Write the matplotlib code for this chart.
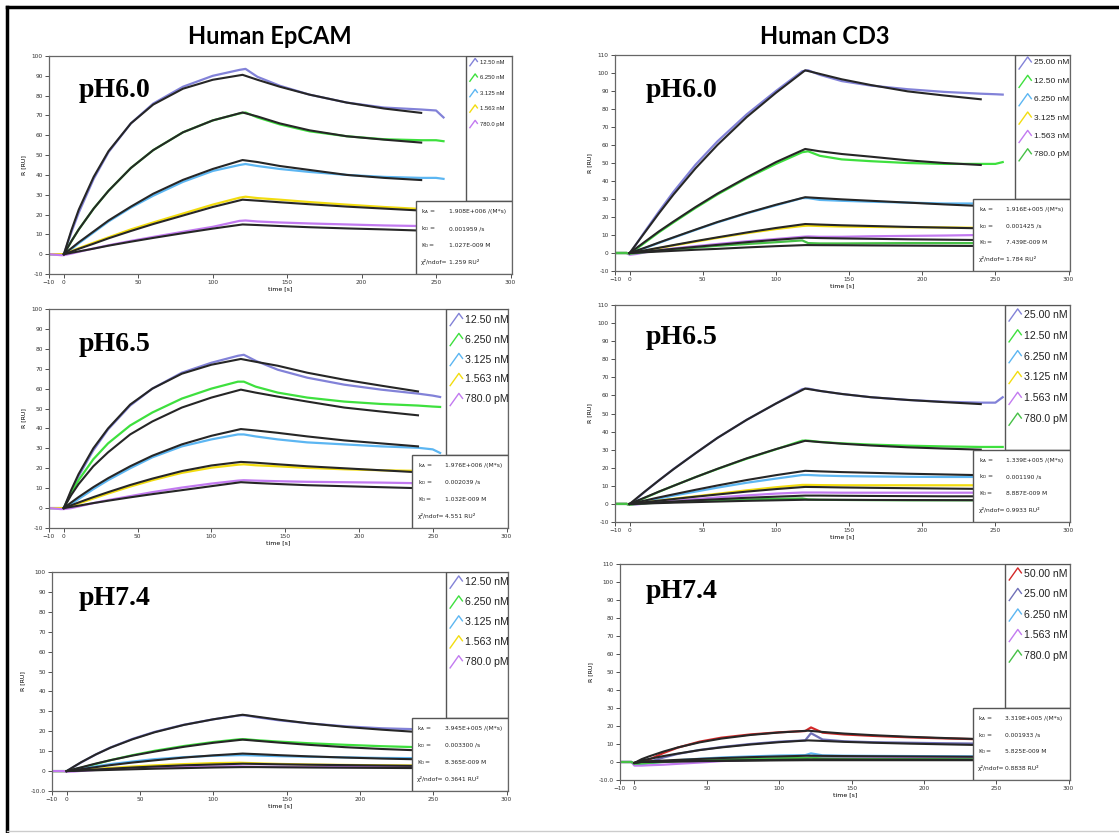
import numpy as np
import matplotlib.pyplot as plt
from matplotlib.patches import Rectangle
from matplotlib.lines import Line2D

# time grids (s) shared by all sensorgrams
FIT_T = [0, 5, 10, 20, 30, 45, 60, 80, 100, 120, 130, 145, 165, 190, 215, 240]
DATA_T = [-10, -2, 0, 5, 10, 20, 30, 45, 60, 80, 100, 118, 122, 130, 145, 165, 190, 215, 240, 250, 255]

PURPLE = '#8282d8'
GREEN = '#3ee03e'
LBLUE = '#5cb6f2'
YELLOW = '#f2dc10'
VIOLET = '#c27af0'
DGREEN = '#46c046'
RED = '#d42828'

# ---- Human EpCAM pH6.0
ep60_labels = ['12.50 nM', '6.250 nM', '3.125 nM', '1.563 nM', '780.0 pM']
ep60_colors = [PURPLE, GREEN, LBLUE, YELLOW, VIOLET]
ep60_data = [
    [0, 0, 0, 11, 21, 38, 51.5, 66, 76, 84.5, 90, 93, 93.5, 89.5, 85, 80.5, 76.5, 74, 73, 72.5, 69],
    [0, 0, 0, 6.5, 12.5, 23, 32, 43.5, 52.5, 61.5, 67.5, 71, 71.5, 69, 65.5, 62, 59.5, 58, 57.5, 57.5, 57],
    [0, 0, 0, 2.5, 5.5, 11, 16.5, 23.5, 29.5, 36.5, 42, 45, 45.5, 44.5, 43, 41.5, 40, 39, 38.5, 38.5, 38],
    [0, 0, 0, 1.5, 3, 5.8, 8.5, 12.5, 16, 20.5, 25, 28.5, 29, 28.3, 27.5, 26.3, 25, 23.8, 22.8, 22.5, 22],
    [0, -0.5, -0.5, 0.3, 1.2, 2.9, 4.5, 6.7, 8.7, 11.3, 13.8, 16.8, 17, 16.5, 16, 15.5, 15, 14.5, 14.2, 14, 14],
]
ep60_fit = [
    [0, 12, 22.5, 39, 52, 66, 75.5, 83.5, 88, 90.5, 88, 84.5, 80.5, 76.5, 73.5, 71.3],
    [0, 6.5, 12.5, 23, 32, 43.5, 52.5, 61.5, 67.5, 71.5, 69.5, 66, 62.5, 59.5, 57.8, 56.3],
    [0, 3, 6, 11.5, 17, 24, 30.5, 37.5, 43, 47.5, 46.5, 44.5, 42.5, 40, 38.5, 37.4],
    [0, 1.3, 2.7, 5.3, 8, 11.7, 15.2, 19.5, 23.8, 27.5, 27, 26.2, 25.2, 24, 23, 22],
    [0, 0.7, 1.4, 2.8, 4.3, 6.3, 8.2, 10.6, 12.9, 15, 14.7, 14.2, 13.6, 13, 12.5, 11.9],
]
ep60_kin = ['1.908E+006 /(M*s)', '0.001959 /s', '1.027E-009 M', '1.259 RU\u00b2']

# ---- Human CD3 pH6.0
cd60_labels = ['25.00 nM', '12.50 nM', '6.250 nM', '3.125 nM', '1.563 nM', '780.0 pM']
cd60_colors = [PURPLE, GREEN, LBLUE, YELLOW, VIOLET, DGREEN]
cd60_data = [
    [0, 0, -0.5, 5.5, 11.5, 23, 34, 49, 62, 77, 90, 101, 101.5, 99, 95.5, 93, 91, 89.5, 88.5, 88.2, 88],
    [0, 0, -0.5, 2.5, 5.5, 11.5, 17, 25, 32.5, 41.5, 49.5, 56, 56.5, 54, 52, 51, 50, 49.5, 49.5, 49.5, 50.5],
    [0, 0, -0.5, 1.2, 2.6, 5.6, 8.5, 12.8, 17, 22, 26.5, 30.5, 30.5, 29.5, 29, 28.5, 28, 27.5, 27.5, 27.5, 27.5],
    [0, 0, -0.5, 0.5, 1.2, 2.7, 4.2, 6.3, 8.4, 11, 13.3, 15, 15.2, 15, 14.7, 14.5, 14.3, 14.2, 14, 14, 14],
    [0, 0, -1, -0.5, 0.3, 1.5, 2.5, 3.8, 5, 6.5, 7.8, 9, 9.2, 9, 9, 9.3, 9.5, 9.7, 10, 10, 10],
    [0, 0, -0.5, 0, 0.5, 1.3, 2, 3, 4, 5, 6, 7, 5.5, 5.3, 5.3, 5.4, 5.5, 5.5, 5.5, 5.5, 5.5],
]
cd60_fit = [
    [0, 5.5, 11, 22, 32.5, 47, 60, 75.5, 89, 101.5, 99.5, 96.5, 93.3, 89.8, 87.5, 85.4],
    [0, 3, 6, 12, 17.5, 25.5, 33, 42, 50.5, 57.8, 56.5, 55, 53.5, 51.5, 50, 48.9],
    [0, 1.4, 2.8, 5.8, 8.7, 13, 17.2, 22.2, 26.8, 31, 30.5, 29.8, 29, 28, 27, 26.1],
    [0, 0.7, 1.4, 2.9, 4.4, 6.6, 8.7, 11.4, 13.9, 16.1, 15.8, 15.4, 15, 14.5, 14.1, 13.7],
    [0, 0.4, 0.7, 1.5, 2.3, 3.4, 4.5, 6, 7.3, 8.5, 8.3, 8.1, 7.9, 7.6, 7.4, 7.2],
    [0, 0.2, 0.4, 0.8, 1.2, 1.8, 2.3, 3.1, 3.8, 4.4, 4.35, 4.3, 4.2, 4.1, 4, 3.9],
]
cd60_kin = ['1.916E+005 /(M*s)', '0.001425 /s', '7.439E-009 M', '1.784 RU\u00b2']

# ---- Human EpCAM pH6.5
ep65_labels = ep60_labels
ep65_colors = ep60_colors
ep65_data = [
    [0, 0, 0, 8, 16, 29, 39.5, 51.5, 60, 68, 73, 76.5, 77, 74, 69.5, 65.5, 62, 59.5, 57.5, 56.5, 55.8],
    [0, 0, 0, 7.5, 14, 24.5, 32.5, 41.5, 48, 55, 60, 63.5, 63.5, 61, 58, 55.5, 53.5, 52.3, 51.5, 51, 50.8],
    [0, 0, 0, 2, 4.5, 9.5, 14, 20, 25.5, 31, 34.5, 37, 37, 36, 34.5, 33, 32, 31, 30.3, 29.5, 27.7],
    [0, 0, 0, 1, 2.3, 4.8, 7.3, 10.8, 14, 17.7, 20.3, 21.8, 22, 21.5, 21, 20.2, 19.5, 19, 18.7, 18.5, 18.5],
    [0, -0.5, -0.5, 0, 0.8, 2.5, 4, 6, 8, 10.3, 12.3, 13.8, 14, 13.8, 13.5, 13.2, 13, 12.8, 12.5, 12.5, 12.5],
]
ep65_fit = [
    [0, 9, 17, 30, 40, 52, 60, 67.5, 72, 74.9, 73.5, 71.5, 68, 64.5, 61.5, 58.6],
    [0, 6.5, 12, 21, 28, 37, 43.5, 50.5, 55.5, 59.5, 58, 56, 53.5, 50.5, 48.5, 46.6],
    [0, 2.8, 5.5, 10.5, 15, 21, 26.3, 32, 36.3, 39.7, 39, 37.8, 36, 34, 32.5, 31],
    [0, 1.4, 2.8, 5.5, 8, 11.6, 14.8, 18.6, 21.4, 23.2, 22.8, 22, 21, 20, 19, 18],
    [0, 0.6, 1.2, 2.5, 3.7, 5.4, 7, 9, 11, 13, 12.6, 12.1, 11.5, 11, 10.5, 10],
]
ep65_kin = ['1.976E+006 /(M*s)', '0.002039 /s', '1.032E-009 M', '4.551 RU\u00b2']

# ---- Human CD3 pH6.5
cd65_labels = cd60_labels
cd65_colors = cd60_colors
cd65_data = [
    [0, 0, -0.5, 3, 6.5, 13, 19.3, 28, 36.5, 46.5, 55.5, 63.5, 63.8, 62.5, 60.8, 59, 57.5, 56.5, 56, 56, 59],
    [0, 0, -0.5, 1.5, 3.2, 6.7, 10, 14.8, 19.3, 25, 30.2, 35, 35, 34.3, 33.5, 32.8, 32.2, 31.8, 31.5, 31.5, 31.5],
    [0, 0, -0.5, 0.5, 1.3, 3, 4.6, 6.8, 9, 11.7, 14, 16, 16, 15.7, 15.4, 15.2, 15, 14.9, 14.9, 14.9, 14.9],
    [0, 0, -0.5, 0.3, 0.8, 1.8, 2.8, 4.2, 5.6, 7.5, 9.2, 10.5, 10.5, 10.4, 10.3, 10.3, 10.3, 10.3, 10.3, 10.3, 10.3],
    [0, 0, -0.5, -0.3, 0.2, 1, 1.7, 2.7, 3.6, 4.7, 5.7, 6.3, 6.3, 6.3, 6.2, 6.2, 6.2, 6.2, 6.2, 6.2, 6.2],
    [0, 0, -0.5, 0, 0.3, 0.7, 1.1, 1.6, 2.1, 2.5, 2.8, 3, 2.5, 2.3, 2.2, 2.1, 2, 2, 2, 2, 2],
]
cd65_fit = [
    [0, 3.3, 6.6, 13, 19.2, 28, 36.5, 46.5, 55.5, 63.8, 62.5, 60.8, 59, 57.5, 56.3, 55.2],
    [0, 1.7, 3.4, 6.8, 10, 14.8, 19.4, 25.2, 30.3, 34.9, 34.2, 33.3, 32.3, 31.3, 30.6, 30],
    [0, 0.9, 1.8, 3.6, 5.3, 7.8, 10.2, 13.2, 15.9, 18.3, 18, 17.6, 17.2, 16.7, 16.3, 15.9],
    [0, 0.45, 0.9, 1.8, 2.7, 4, 5.2, 6.8, 8.2, 9.4, 9.3, 9.1, 8.9, 8.7, 8.5, 8.3],
    [0, 0.2, 0.4, 0.9, 1.3, 2, 2.6, 3.4, 4, 4.6, 4.6, 4.5, 4.4, 4.3, 4.2, 4.2],
    [0, 0.1, 0.2, 0.45, 0.7, 1, 1.3, 1.7, 2, 2.3, 2.3, 2.25, 2.2, 2.15, 2.1, 2.05],
]
cd65_kin = ['1.339E+005 /(M*s)', '0.001190 /s', '8.887E-009 M', '0.9933 RU\u00b2']

# ---- Human EpCAM pH7.4
ep74_labels = ep60_labels
ep74_colors = ep60_colors
ep74_data = [
    [0, 0, 0, 2.2, 4.4, 8.4, 11.9, 16.2, 19.7, 23.3, 26, 28, 28, 27, 25.5, 24, 22.5, 21.5, 21, 20.7, 20.5],
    [0, 0, 0, 0.8, 1.7, 3.6, 5.5, 8, 10.2, 12.6, 14.6, 16, 16, 15.5, 14.8, 14, 13.2, 12.5, 12, 12, 12],
    [0, 0, 0, 0.6, 1.2, 2.4, 3.5, 4.8, 6, 7, 7.7, 8, 8, 7.8, 7.5, 7.2, 6.9, 6.6, 6.5, 6.5, 6.5],
    [0, 0, 0, 0.2, 0.5, 1.1, 1.6, 2.3, 2.9, 3.5, 4, 4.2, 4.1, 3.9, 3.6, 3.3, 3.1, 2.9, 2.8, 2.8, 2.8],
    [0, 0, -0.3, -0.2, 0.1, 0.6, 1, 1.4, 1.8, 2.1, 2.3, 2.4, 2.3, 2.2, 2.2, 2.1, 2, 2, 2, 2, 2],
]
ep74_fit = [
    [0, 2.3, 4.5, 8.4, 11.8, 16, 19.5, 23.2, 26, 28.3, 27.3, 25.8, 24, 22.2, 20.8, 19.6],
    [0, 1, 1.9, 3.8, 5.5, 7.8, 9.8, 12.2, 14.2, 15.8, 15.2, 14.3, 13.2, 12, 11.1, 10.4],
    [0, 0.5, 1, 2, 3, 4.3, 5.4, 6.8, 7.9, 8.8, 8.5, 8, 7.4, 6.8, 6.3, 5.9],
    [0, 0.2, 0.4, 0.8, 1.2, 1.8, 2.3, 2.9, 3.3, 3.7, 3.6, 3.4, 3.2, 3, 2.8, 2.6],
    [0, 0.1, 0.2, 0.4, 0.6, 0.9, 1.2, 1.5, 1.8, 2, 2, 1.9, 1.8, 1.7, 1.6, 1.5],
]
ep74_kin = ['3.945E+005 /(M*s)', '0.003300 /s', '8.365E-009 M', '0.3641 RU\u00b2']

# ---- Human CD3 pH7.4
cd74_labels = ['50.00 nM', '25.00 nM', '6.250 nM', '1.563 nM', '780.0 pM']
cd74_colors = [RED, '#7070b8', LBLUE, VIOLET, DGREEN]
cd74_data = [
    [0, 0, -1, -0.5, 1.3, 5, 8, 11.3, 13.5, 15.3, 16.5, 17.2, 19.2, 16.3, 15.3, 14.5, 13.7, 13.1, 12.6, 12.3, 12],
    [0, 0, -1.5, -1, 0, 2.5, 4.5, 6.7, 8.3, 10, 11.3, 12, 16, 12.5, 11.5, 11, 10.7, 10.4, 10.2, 10.1, 10],
    [0, 0, -1.5, -1.3, -0.8, 0.2, 1, 1.8, 2.5, 3.1, 3.6, 3.8, 4.8, 3.7, 3.5, 3.4, 3.3, 3.2, 3.1, 3.1, 3.1],
    [0, 0, -2, -2, -1.8, -1.5, -1, -0.3, 0.5, 1.2, 1.8, 2.2, 2.8, 2.5, 2.4, 2.3, 2.3, 2.2, 2.2, 2.2, 2.2],
    [0, 0, -1, -0.8, -0.5, 0, 0.5, 1, 1.4, 1.8, 2.1, 2.2, 2.4, 1.9, 1.8, 1.7, 1.6, 1.6, 1.5, 1.5, 1.5],
]
cd74_fit = [
    [-0.5, 1.6, 3.1, 5.8, 8.1, 10.9, 13, 15, 16.4, 17.4, 16.7, 15.8, 14.9, 14, 13.3, 12.7],
    [-0.5, 0.9, 1.7, 3.3, 4.7, 6.6, 8.1, 9.7, 11, 12, 11.7, 11.2, 10.7, 10.2, 9.8, 9.4],
    [-0.5, 0.2, 0.4, 0.8, 1.2, 1.7, 2.2, 2.7, 3.1, 3.5, 3.4, 3.3, 3.2, 3.1, 3, 2.9],
    [-0.5, 0.05, 0.1, 0.25, 0.4, 0.6, 0.8, 1, 1.2, 1.4, 1.4, 1.35, 1.3, 1.3, 1.25, 1.2],
    [-0.5, 0.05, 0.1, 0.2, 0.3, 0.45, 0.6, 0.75, 0.9, 1, 1, 1, 1, 1, 1, 1],
]
cd74_kin = ['3.319E+005 /(M*s)', '0.001933 /s', '5.825E-009 M', '0.8838 RU\u00b2']

KIN_NAMES = [r'k$_\mathregular{A}$ =', r'k$_\mathregular{D}$ =', r'K$_\mathregular{D}$=', '\u03c7\u00b2/ndof=']

W, H = 1119, 833
fig = plt.figure(figsize=(W / 100, H / 100), dpi=100)


def px_axes(l, t, r, b):
    return fig.add_axes([l / W, 1 - b / H, (r - l) / W, (b - t) / H])


def panel(ax, ymax, data, fit, colors, labels, kin, ph, legx, kinx, leg_fs, leg_top, leg_step, phx, phy, bottom_lbl):
    for d, c in zip(data, colors):
        ax.plot(DATA_T, d, color=c, lw=1.6, zorder=2)
    for f in fit:
        ax.plot(FIT_T, f, color='#262626', lw=1.5, zorder=3)
    ax.set_xlim(-10, 301)
    ax.set_ylim(-10, ymax)
    ax.set_xticks([-10, 0, 50, 100, 150, 200, 250, 300])
    yt = list(range(-10, ymax + 1, 10))
    ax.set_yticks(yt)
    ylab = [str(v) for v in yt]
    if bottom_lbl:
        ylab[0] = '-10.0'
    ax.set_yticklabels(ylab)
    ax.tick_params(labelsize=4.2, length=3, width=0.6, colors='#333333', pad=1.5)
    for s in ax.spines.values():
        s.set_color('#666666')
        s.set_linewidth(0.9)
    ax.set_xlabel('time [s]', fontsize=4.5, labelpad=0.5)
    ax.set_ylabel('R [RU]', fontsize=4.5, labelpad=4)
    ax.text(phx, phy, ph, transform=ax.transAxes, fontsize=20, fontweight='bold',
            family='Liberation Serif', va='baseline', ha='left', zorder=5)
    # concentration legend
    ax.add_patch(Rectangle((legx, 0.333), 1 - legx, 0.667, transform=ax.transAxes,
                           fill=True, fc='white', ec='#555555', lw=1.0, zorder=4))
    sc = 0.6 if leg_fs < 6 else 1.0
    for i, (c, lab) in enumerate(zip(colors, labels)):
        yc = leg_top - i * leg_step
        ax.add_line(Line2D([legx + 0.009, legx + 0.019 * sc + 0.009, legx + 0.027 * sc + 0.009],
                           [yc - 0.028 * sc, yc + 0.028 * sc, yc + 0.005 * sc],
                           transform=ax.transAxes, color=c, lw=1.0, zorder=5))
        ax.text(legx + 0.027 * sc + 0.014, yc, lab, transform=ax.transAxes, fontsize=leg_fs,
                family='Liberation Sans', va='center', ha='left', color='#222222', zorder=5)
    # kinetic constants box
    ax.add_patch(Rectangle((kinx, 0.0), 1 - kinx, 0.333, transform=ax.transAxes,
                           fill=True, fc='white', ec='#555555', lw=1.0, zorder=4))
    for i, (nm, val) in enumerate(zip(KIN_NAMES, kin)):
        yc = 0.285 - i * 0.077
        ax.text(kinx + 0.012, yc, nm, transform=ax.transAxes, fontsize=4.3,
                va='center', ha='left', color='#222222', zorder=5)
        ax.text(kinx + 0.072, yc, val, transform=ax.transAxes, fontsize=4.3,
                va='center', ha='left', color='#222222', zorder=5)


ax1 = px_axes(49, 56, 512, 274)
panel(ax1, 100, ep60_data, ep60_fit, ep60_colors, ep60_labels, ep60_kin, 'pH6.0',
      0.900, 0.792, 4.2, 0.972, 0.071, 0.063, 0.81, False)
ax2 = px_axes(615, 55, 1070, 271)
panel(ax2, 110, cd60_data, cd60_fit, cd60_colors, cd60_labels, cd60_kin, 'pH6.0',
      0.879, 0.787, 6.0, 0.963, 0.085, 0.068, 0.806, False)
ax3 = px_axes(49, 309, 508, 528)
panel(ax3, 100, ep65_data, ep65_fit, ep65_colors, ep65_labels, ep65_kin, 'pH6.5',
      0.865, 0.791, 7.6, 0.952, 0.0913, 0.065, 0.808, False)
ax4 = px_axes(615, 305, 1070, 522)
panel(ax4, 110, cd65_data, cd65_fit, cd65_colors, cd65_labels, cd65_kin, 'pH6.5',
      0.857, 0.787, 7.6, 0.954, 0.096, 0.068, 0.82, False)
ax5 = px_axes(52, 572, 508, 791)
panel(ax5, 100, ep74_data, ep74_fit, ep74_colors, ep74_labels, ep74_kin, 'pH7.4',
      0.864, 0.789, 7.6, 0.954, 0.091, 0.059, 0.849, True)
ax6 = px_axes(620, 564, 1070, 780)
panel(ax6, 110, cd74_data, cd74_fit, cd74_colors, cd74_labels, cd74_kin, 'pH7.4',
      0.856, 0.784, 7.6, 0.954, 0.095, 0.058, 0.843, True)

fig.text(270 / W, 1 - 37 / H, 'Human EpCAM', fontsize=17, fontweight='bold',
         family='Lato', ha='center', va='center')
fig.text(825 / W, 1 - 37 / H, 'Human CD3', fontsize=17, fontweight='bold',
         family='Lato', ha='center', va='center')

# outer frame
fig.add_artist(Line2D([7 / W, 7 / W], [1 - 7 / H, 0], color='black', lw=2.5))
fig.add_artist(Line2D([7 / W, 1], [1 - 7 / H, 1 - 7 / H], color='black', lw=2.5))
fig.add_artist(Line2D([7 / W, 1], [1 - 831 / H, 1 - 831 / H], color='#cccccc', lw=1.0))

fig.savefig('out.png', dpi=100)
